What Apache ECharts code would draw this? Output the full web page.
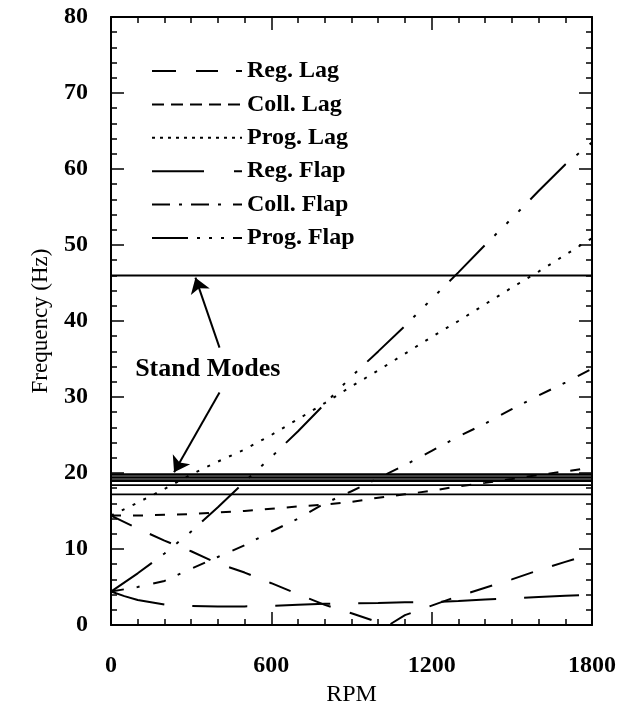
<!DOCTYPE html>
<html>
<head>
<meta charset="utf-8">
<script src="https://cdn.jsdelivr.net/npm/echarts@6/dist/echarts.min.js"></script>
<style>
html,body{margin:0;padding:0;background:#fff;}
#chart{width:622px;height:710px;}
</style>
</head>
<body>
<div id="chart"></div>
<script>
// ---- data ----
const rpm = [0,100,200,300,400,500,600,700,800,900,1000,1100,1200,1300,1400,1500,1600,1700,1800];
const regLagRpm = [0,100,200,300,400,500,600,700,800,900,1000,1040,1100,1200,1300,1400,1500,1600,1700,1800];
const regLag   = [14.4,12.7,11.1,9.7,8.1,6.9,5.5,4.05,2.65,1.55,0.35,0.0,1.3,2.55,3.8,4.9,6.0,7.2,8.3,9.4];
const collLag  = [14.4,14.4,14.5,14.6,14.8,15.0,15.3,15.6,15.85,16.2,16.75,17.2,17.65,18.25,18.7,19.2,19.75,20.2,20.75];
const progLag  = [14.4,16.1,17.9,19.8,21.5,23.1,25.0,27.1,29.2,31.4,33.5,35.7,37.9,40.0,42.2,44.4,46.5,48.7,50.9];
const regFlapRpm = [0,50,100,200,300,400,500,600,700,800,900,1000,1100,1200,1300,1400,1500,1600,1700,1800];
const regFlap  = [4.4,3.8,3.3,2.7,2.5,2.45,2.45,2.5,2.65,2.8,2.85,2.9,3.0,3.0,3.15,3.35,3.5,3.7,3.85,4.0];
const collFlap = [4.4,5.0,5.8,7.4,8.95,10.5,12.3,14.0,16.0,17.6,19.3,21.05,22.9,24.8,26.5,28.4,30.2,31.9,33.7];
const progFlap = [4.4,6.8,9.4,12.3,15.5,18.85,22.1,25.5,29.1,32.7,36.0,39.35,42.9,46.4,50.0,53.5,57.1,60.6,63.5];
const standModes = [46, 19.8, 19.4, 19.0, 18.4, 17.2];
const standRange = [0, 1800];
const seriesNames = ['Reg. Lag','Coll. Lag','Prog. Lag','Reg. Flap','Coll. Flap','Prog. Flap'];
const xTicks = [0, 600, 1200, 1800];
const yTicks = [0, 10, 20, 30, 40, 50, 60, 70, 80];
// annotation (text + arrows) in data coordinates
const annotText = 'Stand Modes';
const annotPos = [362, 33.6];
const arrowUp = [[406, 36.5], [316, 45.7]];
const arrowDown = [[406, 30.6], [236, 20.1]];

const FONT = 'Liberation Serif';
const pair = (xs, ys) => xs.map((x, i) => [x, ys[i]]);

const styles = {
  'Reg. Lag':  {plot:[23,20], legend:[24,20,22,18,6,60]},
  'Coll. Lag': {plot:[10,12], legend:[12,7]},
  'Prog. Lag': {plot:[3,9],  legend:[3,5]},
  'Reg. Flap': {plot:[55,28], legend:[52,30,8,60]},
  'Coll. Flap':{plot:[13,13,3,14], legend:[18,9,3,9,18,9,3,12,9,60]},
  'Prog. Flap':{plot:[50,14,3,14,3,14,3,14], legend:[36,9,3,9,3,9,3,9,9,60]}
};
const curveData = {
  'Reg. Lag': pair(regLagRpm, regLag),
  'Coll. Lag': pair(rpm, collLag),
  'Prog. Lag': pair(rpm, progLag),
  'Reg. Flap': pair(regFlapRpm, regFlap),
  'Coll. Flap': pair(rpm, collFlap),
  'Prog. Flap': pair(rpm, progFlap)
};

const series = [];
standModes.forEach((f, i) => {
  const s = {
    name: 'stand' + i, type: 'line', symbol: 'none', silent: true,
    data: standRange.map(x => [x, f]),
    lineStyle: {color: '#000', width: i === 0 ? 2 : (i <= 3 ? 2.6 : 1.8), type: 'solid'},
    itemStyle: {color: '#000'},
    z: 2
  };
  if (i === 0) {
    s.markLine = {
      silent: true, symbol: ['none', 'arrow'], symbolSize: 15,
      label: {show: false},
      itemStyle: {color: '#000'},
      lineStyle: {color: '#000', width: 2, type: 'solid'},
      data: [
        [{coord: arrowUp[0]}, {coord: arrowUp[1]}],
        [{coord: arrowDown[0]}, {coord: arrowDown[1]}]
      ]
    };
    s.markPoint = {
      silent: true,
      data: [{coord: annotPos, symbol: 'circle', symbolSize: 0,
        label: {show: true, position: 'inside', formatter: annotText, color: '#000',
                fontFamily: FONT, fontSize: 26, fontWeight: 'bold'}}]
    };
  }
  series.push(s);
});
seriesNames.forEach(n => {
  series.push({
    name: n, type: 'line', symbol: 'none', smooth: false,
    data: curveData[n],
    lineStyle: {color: '#000', width: 2, type: styles[n].plot},
    itemStyle: {color: '#000'},
    z: 3
  });
});

const baseAxis = {
  axisLine: {show: true, onZero: false, lineStyle: {color: '#000', width: 2}},
  splitLine: {show: false},
  axisTick: {show: true, inside: true, length: 13, lineStyle: {color: '#000', width: 1.5}},
  minorTick: {show: true, length: 6, lineStyle: {color: '#000', width: 1.5}}
};

const option = {
  backgroundColor: '#fff',
  animation: false,
  grid: {left: 111, right: 30, top: 17, bottom: 85, containLabel: false, outerBoundsMode: 'none'},
  legend: {
    show: true,
    orient: 'vertical', left: 146, top: 54,
    itemWidth: 90, itemHeight: 12, itemGap: 9.4,
    textStyle: {fontFamily: FONT, fontSize: 24, fontWeight: 'bold', color: '#000', lineHeight: 23},
    lineStyle: {color: '#000', width: 2},
    itemStyle: {color: 'rgba(0,0,0,0)', borderWidth: 0, opacity: 0},
    data: seriesNames.map(n => ({
      name: n,
      itemStyle: {color: 'rgba(0,0,0,0)', borderWidth: 0, opacity: 0},
      lineStyle: {color: '#000', width: 2, type: styles[n].legend}
    })),
    selectedMode: false
  },
  xAxis: [
    Object.assign({}, baseAxis, {
      type: 'value', min: 0, max: 1800, interval: 600, position: 'bottom',
      minorTick: Object.assign({}, baseAxis.minorTick, {splitNumber: 6}),
      axisLabel: {show: true, margin: 29, color: '#000', fontFamily: FONT, fontSize: 24, fontWeight: 'bold',
        formatter: v => xTicks.indexOf(v) >= 0 ? String(v) : ''},
      name: 'RPM', nameLocation: 'middle', nameGap: 58,
      nameTextStyle: {fontFamily: FONT, fontSize: 24, color: '#000'}
    }),
    Object.assign({}, baseAxis, {
      type: 'value', min: 0, max: 1800, interval: 600, position: 'top',
      minorTick: Object.assign({}, baseAxis.minorTick, {splitNumber: 6}),
      axisLabel: {show: false}
    })
  ],
  yAxis: [
    Object.assign({}, baseAxis, {
      type: 'value', min: 0, max: 80, interval: 10, position: 'left',
      minorTick: Object.assign({}, baseAxis.minorTick, {splitNumber: 5}),
      axisLabel: {show: true, margin: 23, color: '#000', fontFamily: FONT, fontSize: 24, fontWeight: 'bold',
        formatter: v => yTicks.indexOf(v) >= 0 ? String(v) : ''},
      name: 'Frequency (Hz)', nameLocation: 'middle', nameGap: 59,
      nameTextStyle: {fontFamily: FONT, fontSize: 23, color: '#000'}
    }),
    Object.assign({}, baseAxis, {
      type: 'value', min: 0, max: 80, interval: 10, position: 'right',
      minorTick: Object.assign({}, baseAxis.minorTick, {splitNumber: 5}),
      axisLabel: {show: false}
    })
  ],
  series: series
};

const chart = echarts.init(document.getElementById('chart'), null, {renderer: 'canvas'});
chart.setOption(option);
</script>
</body>
</html>
